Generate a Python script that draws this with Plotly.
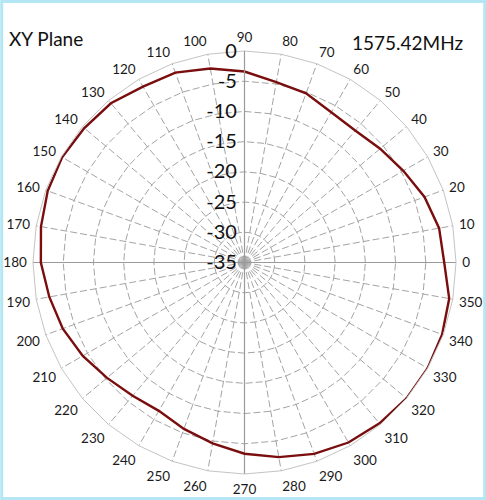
import plotly.graph_objects as go

# Data
angles = [str(a) for a in range(0, 360, 10)]
gain_db = [-1.95, -2.3, -3.3, -4.65, -5.7, -6.5, -6.3, -5.2, -4.7, -3.4,
           -2.4, -1.55, -1.4, -0.6, -0.4, -0.15, -0.35, -0.8,
           -1.3, -2.2, -3.0, -4.1, -5.3, -6.2, -6.65, -5.7, -4.6, -3.35,
           -2.3, -1.3, -0.6, -0.25, 0.0, 0.0, -0.2, -0.6]
radial_ticks = [-35, -30, -25, -20, -15, -10, -5, 0]
r_min, r_max = -35, 0

W, H = 486, 500
ml, mr, mt, mb = 32.8, 30.2, 51, 26
pw, ph = W - ml - mr, H - mt - mb


def px_x(p):
    return (p - ml) / pw


def px_y(p):
    return (H - mb - p) / ph


fig = go.Figure()

# axis lines through centre (0-180 and 270)
fig.add_trace(go.Scatterpolar(
    theta=[angles[18], angles[0]], r=[r_max, r_max], mode="lines",
    line=dict(color="#9a9a9a", width=1.2), hoverinfo="skip", showlegend=False))
fig.add_trace(go.Scatterpolar(
    theta=[angles[27], angles[27]], r=[r_max, r_min], mode="lines",
    line=dict(color="#9a9a9a", width=1.2), hoverinfo="skip", showlegend=False))

fig.add_trace(go.Scatterpolar(
    theta=angles + [angles[0]], r=gain_db + [gain_db[0]], mode="lines",
    line=dict(color="#7a0d0d", width=2.4), showlegend=False))

fig.update_layout(
    width=W, height=H,
    margin=dict(l=ml, r=mr, t=mt, b=mb, pad=0),
    paper_bgcolor="white",
    font=dict(family="Lato", color="#222222"),
    polar=dict(
        bgcolor="white",
        gridshape="linear",
        domain=dict(x=[0, 1], y=[0, 1]),
        angularaxis=dict(
            type="category", categoryarray=angles,
            direction="counterclockwise", rotation=0,
            showline=True, linecolor="#c4c4c4", linewidth=1,
            showgrid=True, gridcolor="#a4a4a4", griddash="7px,3px", gridwidth=1,
            ticks="outside", ticklen=3, tickcolor="rgba(0,0,0,0)",
            tickfont=dict(size=13.5, family="Lato", color="#1a1a1a"),
        ),
        radialaxis=dict(
            range=[r_min, r_max], tickvals=radial_ticks,
            ticktext=[str(v) for v in radial_ticks],
            angle=90, side="counterclockwise", tickangle=90,
            showline=True, linecolor="#9a9a9a", linewidth=1.2,
            showgrid=True, gridcolor="#a4a4a4", griddash="7px,3px", gridwidth=1,
            ticks="", tickfont=dict(size=20, family="Lato", color="#111111"),
        ),
    ),
    annotations=[
        dict(text="XY Plane", xref="paper", yref="paper",
             x=px_x(7), y=px_y(38.5), xanchor="left", yanchor="middle",
             showarrow=False, font=dict(size=19, family="Lato", color="#111111")),
        dict(text="1575.42MHz", xref="paper", yref="paper",
             x=px_x(465), y=px_y(43), xanchor="right", yanchor="middle",
             showarrow=False, font=dict(size=19, family="Lato", color="#111111")),
    ],
    shapes=[
        dict(type="rect", xref="paper", yref="paper",
             x0=px_x(1.5), x1=px_x(484.5), y0=px_y(498.5), y1=px_y(1.5),
             line=dict(color="#b4e6f4", width=3), fillcolor="rgba(0,0,0,0)",
             layer="below"),
    ],
)

fig.write_html("out.html")
